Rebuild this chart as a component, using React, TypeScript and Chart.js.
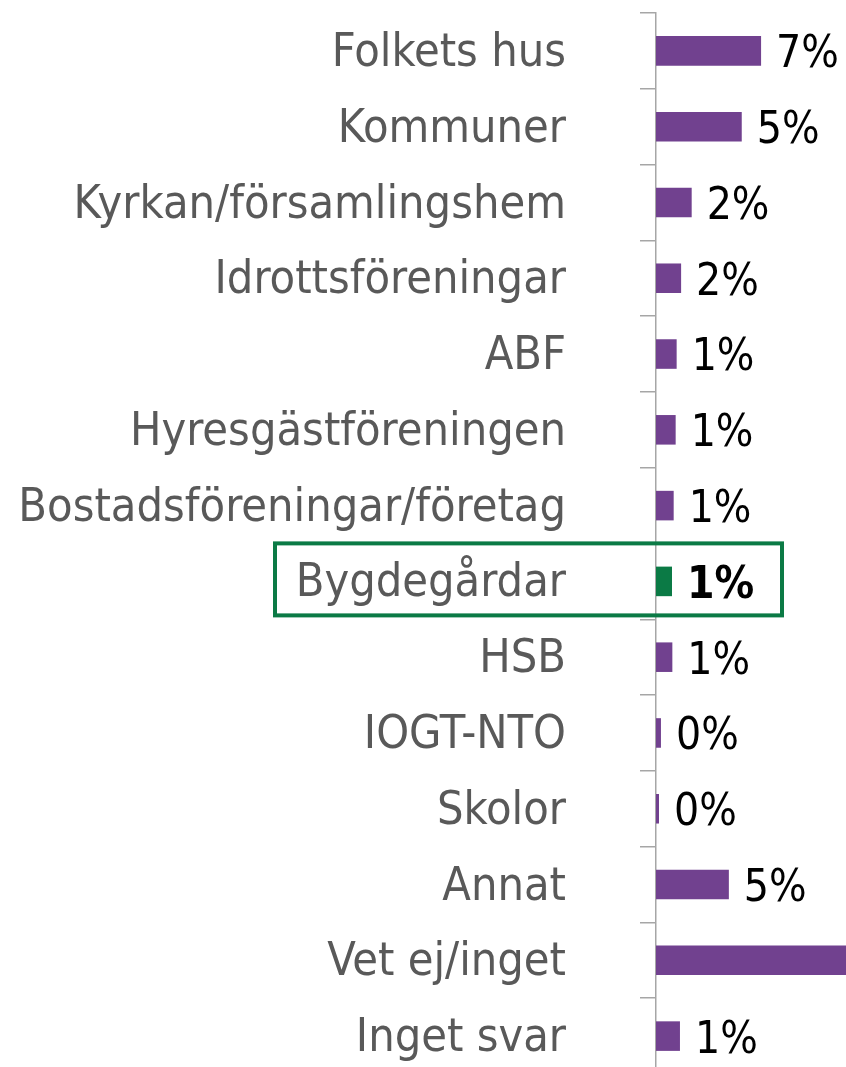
import React, { useEffect, useRef } from "react";
import { Chart, registerables } from "chart.js";

Chart.register(...registerables);

const categories = [
  "Folkets hus",
  "Kommuner",
  "Kyrkan/församlingshem",
  "Idrottsföreningar",
  "ABF",
  "Hyresgästföreningen",
  "Bostadsföreningar/företag",
  "Bygdegårdar",
  "HSB",
  "IOGT-NTO",
  "Skolor",
  "Annat",
  "Vet ej/inget",
  "Inget svar",
];

const values = [6.36, 5.19, 2.16, 1.52, 1.25, 1.19, 1.07, 0.97, 0.99, 0.3, 0.18, 4.41, 70, 1.45];
const valueLabels = ["7%", "5%", "2%", "2%", "1%", "1%", "1%", "1%", "1%", "0%", "0%", "5%", "70%", "1%"];
const highlightIndex = 7;

const FONT = "'DejaVu Sans Condensed', 'DejaVu Sans', sans-serif";
const PURPLE = "#71418F";
const GREEN = "#0B7A45";

export default function App() {
  const ref = useRef<HTMLCanvasElement | null>(null);

  useEffect(() => {
    if (!ref.current) return;
    const labelPlugin = {
      id: "valueLabels",
      afterDatasetsDraw(chart: any) {
        const ctx = chart.ctx;
        const meta = chart.getDatasetMeta(0);
        ctx.save();
        meta.data.forEach((bar: any, i: number) => {
          const bold = i === highlightIndex;
          ctx.font = `${bold ? "bold " : ""}44px ${FONT}`;
          ctx.fillStyle = "#000000";
          ctx.textAlign = "left";
          ctx.textBaseline = "middle";
          ctx.fillText(valueLabels[i], bar.x + 15, bar.y + 5);
        });
        ctx.restore();
      },
      afterDraw(chart: any) {
        const ctx = chart.ctx;
        const yScale = chart.scales.y;
        const left = chart.chartArea.left;
        const cy = yScale.getPixelForValue(highlightIndex);
        ctx.save();
        ctx.strokeStyle = GREEN;
        ctx.lineWidth = 4;
        ctx.strokeRect(left - 381, cy - 38, 507, 72);
        ctx.restore();
      },
    };

    const chart = new Chart(ref.current, {
      type: "bar",
      data: {
        labels: categories,
        datasets: [
          {
            data: values,
            backgroundColor: values.map((_, i) => (i === highlightIndex ? GREEN : PURPLE)),
            borderWidth: 0,
            barPercentage: 0.39,
            categoryPercentage: 1,
          },
        ],
      },
      options: {
        indexAxis: "y",
        responsive: false,
        animation: false,
        devicePixelRatio: 1,
        layout: { padding: { top: 13, bottom: 6, left: 0, right: 0 } },
        plugins: {
          legend: { display: false },
          tooltip: { enabled: false },
        },
        scales: {
          x: { display: false, min: 0, max: 11.5 },
          y: {
            type: "category",
            grid: {
              drawOnChartArea: false,
              drawTicks: true,
              tickLength: 16,
              color: "#A6A6A6",
              lineWidth: 1.5,
              offset: true,
            },
            border: { color: "#A6A6A6", width: 1.5 },
            ticks: {
              autoSkip: false,
              padding: 74,
              labelOffset: 3,
              color: "#595959",
              font: { family: FONT, size: 46.5 },
            },
            afterFit: (s: any) => {
              s.width = 656;
              s.paddingTop = 0;
              s.paddingBottom = 0;
            },
          },
        },
      },
      plugins: [labelPlugin],
    } as any);
    return () => chart.destroy();
  }, []);

  return (
    <div
      style={{
        position: "fixed",
        left: 0,
        top: 0,
        width: 846,
        height: 1067,
        overflow: "hidden",
        background: "#ffffff",
      }}
    >
      <canvas ref={ref} width={846} height={1080} style={{ display: "block" }} />
    </div>
  );
}
